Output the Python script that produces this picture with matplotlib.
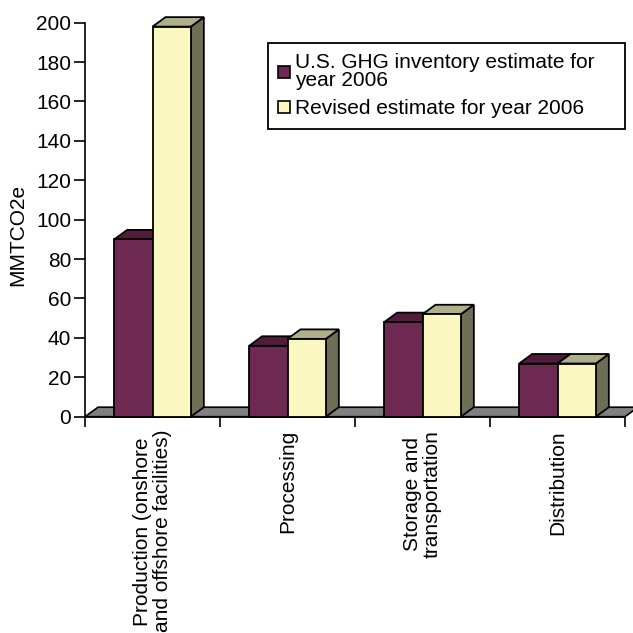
import matplotlib
matplotlib.use("Agg")
import matplotlib.pyplot as plt
import matplotlib.transforms as transforms
from matplotlib.patches import Polygon, Patch

plt.rcParams['font.family'] = ['Liberation Sans', 'DejaVu Sans']

categories = ["Production (onshore\nand offshore facilities)", "Processing",
              "Storage and\ntransportation", "Distribution"]
inventory = [90, 36, 48, 27]
revised = [198, 39.5, 52, 27]
series_names = ["U.S. GHG inventory estimate for\nyear 2006",
                "Revised estimate for year 2006"]

# front / top / side shades for each series
maroon = ("#6E2952", "#521C3C", "#3A1530")
cream = ("#FAF7C0", "#AFAF8A", "#6E6E55")

FS = 15

W, H = 633, 633
fig = plt.figure(figsize=(W / 100, H / 100), dpi=100)
left, right, top, bottom = 85, 625, 22.7, 416.7
ax = fig.add_axes([left / W, 1 - bottom / H, (right - left) / W, (bottom - top) / H])
ax.set_xlim(0, 4)
ax.set_ylim(0, 200)

# depth offset of the 3d look, in pixels, turned into data units
px_x = (right - left) / 4
px_y = (bottom - top) / 200
ddx = 13 / px_x
ddy = 9.5 / px_y

floor = Polygon([(0, 0), (4, 0), (4 + ddx, ddy), (ddx, ddy)], closed=True,
                facecolor="#808080", edgecolor="black", lw=1.2, clip_on=False, zorder=1)
ax.add_patch(floor)


def box(x0, w, h, cols):
    front = Polygon([(x0, 0), (x0 + w, 0), (x0 + w, h), (x0, h)],
                    facecolor=cols[0], edgecolor="black", lw=1.3, clip_on=False, zorder=3)
    topf = Polygon([(x0, h), (x0 + w, h), (x0 + w + ddx, h + ddy), (x0 + ddx, h + ddy)],
                   facecolor=cols[1], edgecolor="black", lw=1.3, clip_on=False, zorder=3)
    side = Polygon([(x0 + w, 0), (x0 + w + ddx, ddy), (x0 + w + ddx, h + ddy), (x0 + w, h)],
                   facecolor=cols[2], edgecolor="black", lw=1.3, clip_on=False, zorder=3)
    for p in (side, topf, front):
        ax.add_patch(p)


bw = 0.284
for i in range(len(categories)):
    c = i + 0.5
    box(c - bw, bw, inventory[i], maroon)
    box(c, bw, revised[i], cream)

for s in ("top", "right"):
    ax.spines[s].set_visible(False)
ax.spines["left"].set_linewidth(1.2)
ax.spines["bottom"].set_linewidth(1.2)
ax.set_yticks(range(0, 201, 20))
ax.set_xticks(range(0, 5))
ax.set_xticklabels([])
ax.tick_params(axis="y", direction="out", length=8, width=1.2, labelsize=FS, pad=2)
ax.tick_params(axis="x", direction="out", length=7, width=1.2)

trans = transforms.blended_transform_factory(ax.transData, fig.transFigure)
for i, name in enumerate(categories):
    ax.text(i + 0.5, 1 - 430 / H, name, transform=trans, rotation=90,
            ha="center", va="top", multialignment="center", fontsize=FS,
            linespacing=1.0, clip_on=False)

fig.text(18 / W, 1 - 235 / H, "MMTCO2e", rotation=90, ha="center", va="center", fontsize=FS)

handles = [Patch(facecolor=maroon[0], edgecolor="black", lw=1.2),
           Patch(facecolor=cream[0], edgecolor="black", lw=1.2)]
leg = fig.legend(handles, series_names, loc="upper left", mode="expand",
                 bbox_to_anchor=(268 / W, 1 - 129 / H, (625 - 268) / W, 86 / H),
                 fontsize=FS, fancybox=False, edgecolor="black", framealpha=1,
                 handlelength=0.55, handleheight=0.5, handletextpad=0.25,
                 labelspacing=0.45, borderpad=0.5, borderaxespad=0)
leg.get_frame().set_linewidth(1.3)
for t in leg.get_texts():
    t.set_linespacing(0.9)

fig.savefig("out.png", dpi=100)
